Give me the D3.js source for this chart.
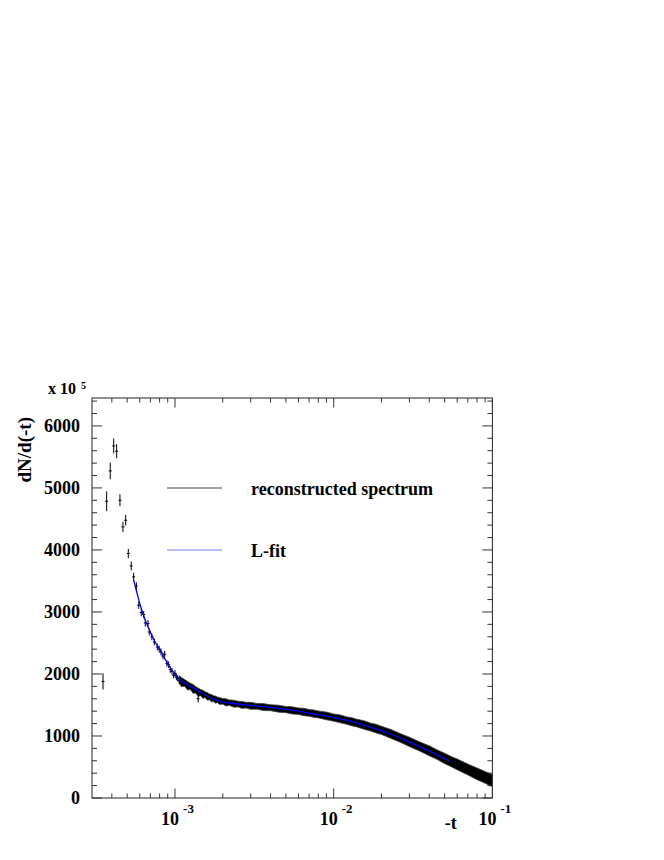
<!DOCTYPE html>
<html>
<head>
<meta charset="utf-8">
<script src="https://cdn.jsdelivr.net/npm/d3@7"></script>
<style>
  html, body { margin: 0; padding: 0; background: #fff; }
  svg { display: block; }
  text { font-family: "Liberation Serif", "Times New Roman", serif; font-weight: bold; fill: #000; }
</style>
</head>
<body>
<svg id="chart" width="664" height="860"></svg>
<script>
// ---------------- data (values in units of 10^5) ----------------
// sparse low -t bins: -t, dN/d(-t), error
const sparseT   = [3.52e-4, 3.71e-4, 3.91e-4, 4.11e-4, 4.29e-4, 4.50e-4, 4.70e-4, 4.89e-4, 5.08e-4, 5.30e-4,
                   5.49e-4, 5.71e-4, 5.91e-4, 6.13e-4, 6.35e-4, 6.50e-4, 6.76e-4, 6.89e-4, 7.15e-4, 7.41e-4,
                   7.74e-4, 7.95e-4, 8.16e-4, 8.40e-4, 8.61e-4, 8.90e-4, 9.12e-4, 9.34e-4, 9.58e-4, 9.81e-4,
                   1.0e-3, 1.02e-3, 1.04e-3, 1.064e-3, 1.40e-3];
const sparseY   = [1880, 4785, 5274, 5677, 5592, 4801, 4371, 4479, 3942, 3742,
                   3565, 3419, 3108, 2990, 2958, 2823, 2813, 2677, 2600, 2516,
                   2435, 2400, 2355, 2290, 2318, 2168, 2150, 2071, 2040, 1979,
                   2010, 1950, 1930, 1898, 1600];
const sparseErr = [130, 160, 134, 120, 113, 97, 85, 85, 75, 70,
                   65, 60, 60, 60, 58, 58, 56, 56, 56, 55,
                   55, 55, 54, 54, 54, 53, 53, 53, 53, 52,
                   52, 52, 52, 52, 60];

// dense high -t region (bins merge into a band): -t, centre, half thickness
const bandT   = [1.06e-3, 1.1e-3, 1.15e-3, 1.2e-3, 1.25e-3, 1.3e-3, 1.35e-3, 1.4e-3, 1.45e-3, 1.5e-3,
                 1.55e-3, 1.6e-3, 1.65e-3, 1.7e-3, 1.75e-3, 1.8e-3, 1.85e-3, 1.9e-3, 2.0e-3, 2.1e-3,
                 2.2e-3, 2.35e-3, 2.5e-3, 2.65e-3, 2.8e-3, 3.0e-3, 3.3e-3, 3.6e-3, 4.0e-3, 4.5e-3,
                 5.0e-3, 5.5e-3, 6.0e-3, 6.5e-3, 7.0e-3, 7.5e-3, 8.0e-3, 9.0e-3, 1.0e-2, 1.1e-2,
                 1.2e-2, 1.3e-2, 1.4e-2, 1.55e-2, 1.7e-2, 1.85e-2, 2.0e-2, 2.3e-2, 2.6e-2, 3.0e-2,
                 3.5e-2, 4.0e-2, 4.5e-2, 5.0e-2, 5.5e-2, 6.0e-2, 7.0e-2, 8.0e-2, 9.0e-2, 1.0e-1];
const bandY   = [1910, 1870, 1855, 1810, 1800, 1760, 1745, 1705, 1700, 1672,
                 1665, 1638, 1632, 1608, 1605, 1585, 1583, 1566, 1558, 1542,
                 1538, 1520, 1514, 1500, 1498, 1486, 1478, 1466, 1456, 1440,
                 1426, 1412, 1400, 1386, 1373, 1360, 1348, 1323, 1297, 1276,
                 1251, 1230, 1208, 1178, 1146, 1118, 1090, 1032, 973, 905,
                 828, 761, 697, 638, 587, 542, 460, 390, 332, 280];
const bandErr = [60, 75, 55, 70, 50, 72, 52, 68, 50, 64,
                 48, 62, 46, 60, 45, 58, 44, 56, 46, 58,
                 44, 56, 46, 56, 46, 56, 46, 56, 48, 56,
                 50, 58, 52, 60, 54, 60, 56, 62, 58, 64,
                 60, 66, 62, 68, 64, 70, 66, 72, 70, 76,
                 74, 80, 78, 84, 82, 88, 88, 94, 95, 100];

// L-fit curve
const fitT = [5.49e-4, 5.76e-4, 6.04e-4, 6.47e-4, 6.99e-4, 7.48e-4, 8.08e-4, 8.65e-4, 9.34e-4, 1.0e-3,
              1.064e-3, 1.156e-3, 1.243e-3, 1.438e-3, 1.662e-3, 1.921e-3, 2.222e-3, 2.97e-3, 3.97e-3, 5.30e-3,
              7.6e-3, 1.0e-2, 1.267e-2, 1.693e-2, 2.264e-2, 3.03e-2, 4.05e-2, 5.4e-2];
const fitY = [3511, 3310, 3108, 2880, 2677, 2520, 2382, 2240, 2103, 1995,
              1915, 1850, 1805, 1710, 1620, 1560, 1532, 1492, 1462, 1420,
              1352, 1297, 1238, 1148, 1036, 898, 752, 592];

const yMajorTicks = [0, 1000, 2000, 3000, 4000, 5000, 6000];
const xMajorTicks = [1e-3, 1e-2, 1e-1];
const xMajorExp   = ["-3", "-2", "-1"];
const legendLabels = ["reconstructed spectrum", "L-fit"];

// ---------------- layout ----------------
const L = 92, R = 492.4, T = 398, B = 798;
const svg = d3.select("#chart");

const x = d3.scaleLog().domain([3e-4, 0.1]).range([L, R]);
const y = d3.scaleLinear().domain([0, 6450]).range([B, T]);

const yMinor = d3.range(0, 6450, 200).filter(v => v % 1000 !== 0);
const xMinor = [];
[1e-4, 1e-3, 1e-2].forEach(d => { for (let k = 2; k <= 9; k++) { const v = k * d; if (v > 3.01e-4 && v < 0.1) xMinor.push(v); } });

const g = svg.append("g");

g.append("rect").attr("x", L).attr("y", T).attr("width", R - L).attr("height", B - T)
  .attr("fill", "none").attr("stroke", "#222").attr("stroke-width", 1);

const tickStroke = "#333";
yMajorTicks.concat(yMinor).forEach(v => {
  const len = yMajorTicks.includes(v) ? 10 : 5;
  const yy = y(v);
  g.append("line").attr("x1", L).attr("x2", L + len).attr("y1", yy).attr("y2", yy).attr("stroke", tickStroke);
  g.append("line").attr("x1", R).attr("x2", R - len).attr("y1", yy).attr("y2", yy).attr("stroke", tickStroke);
});
xMajorTicks.concat(xMinor).forEach(v => {
  const len = xMajorTicks.includes(v) ? 9.5 : 4.5;
  const xx = x(v);
  g.append("line").attr("x1", xx).attr("x2", xx).attr("y1", B).attr("y2", B - len).attr("stroke", tickStroke);
  g.append("line").attr("x1", xx).attr("x2", xx).attr("y1", T).attr("y2", T + len).attr("stroke", tickStroke);
});

yMajorTicks.forEach(v => {
  g.append("text").attr("x", 80).attr("y", y(v) + 6).attr("text-anchor", "end")
    .attr("font-size", 18).text(v);
});
const mult = g.append("text").attr("x", 48).attr("y", 394).attr("font-size", 16);
mult.append("tspan").text("x 10");
mult.append("tspan").attr("dx", 5).attr("dy", -5).attr("font-size", 10).text("5");

xMajorTicks.forEach((v, i) => {
  const t = g.append("text").attr("x", x(v) + 2.5).attr("y", 824.5).attr("text-anchor", "middle").attr("font-size", 18);
  t.append("tspan").text("10");
  t.append("tspan").attr("dx", 4).attr("dy", -11.6).attr("font-size", 13).text(xMajorExp[i]);
});

g.append("text").attr("x", 456.7).attr("y", 828.5).attr("text-anchor", "end").attr("font-size", 18).text("-t");
g.append("text").attr("transform", "translate(31,417) rotate(-90)").attr("text-anchor", "end")
  .attr("font-size", 19).text("dN/d(-t)");

// ---------------- data marks ----------------
const clip = svg.append("defs").append("clipPath").attr("id", "clip");
clip.append("rect").attr("x", L).attr("y", T).attr("width", R - L).attr("height", B - T);
const plot = svg.append("g").attr("clip-path", "url(#clip)");

const band = bandT.map((t, i) => ({ t, v: bandY[i], e: bandErr[i] }));
plot.append("path").datum(band)
  .attr("d", d3.area().x(d => x(d.t)).y0(d => y(d.v - d.e)).y1(d => y(d.v + d.e)).curve(d3.curveLinear))
  .attr("fill", "#000").attr("stroke", "#444").attr("stroke-width", 0.8);

const pts = sparseT.map((t, i) => ({ t, v: sparseY[i], e: sparseErr[i] }));
const pg = plot.append("g").attr("stroke", "#000").attr("stroke-width", 1);
pts.forEach(d => {
  const xx = x(d.t);
  pg.append("line").attr("x1", xx).attr("x2", xx).attr("y1", y(d.v - d.e)).attr("y2", y(d.v + d.e));
  pg.append("line").attr("x1", xx - 1.5).attr("x2", xx + 1.5).attr("y1", y(d.v)).attr("y2", y(d.v));
});

const fit = fitT.map((t, i) => ({ t, v: fitY[i] }));
plot.append("path").datum(fit)
  .attr("d", d3.line().x(d => x(d.t)).y(d => y(d.v)).curve(d3.curveMonotoneX))
  .attr("fill", "none").attr("stroke", "#0000ff").attr("stroke-width", 1.3);

// ---------------- legend ----------------
const legColors = ["#444", "#7878ff"];
const legY = [488, 550];
legendLabels.forEach((lab, i) => {
  g.append("line").attr("x1", 167).attr("x2", 222).attr("y1", legY[i]).attr("y2", legY[i])
    .attr("stroke", legColors[i]).attr("stroke-width", 1.2);
  g.append("text").attr("x", 251).attr("y", legY[i] + 7).attr("font-size", 18).text(lab);
});
</script>
</body>
</html>
